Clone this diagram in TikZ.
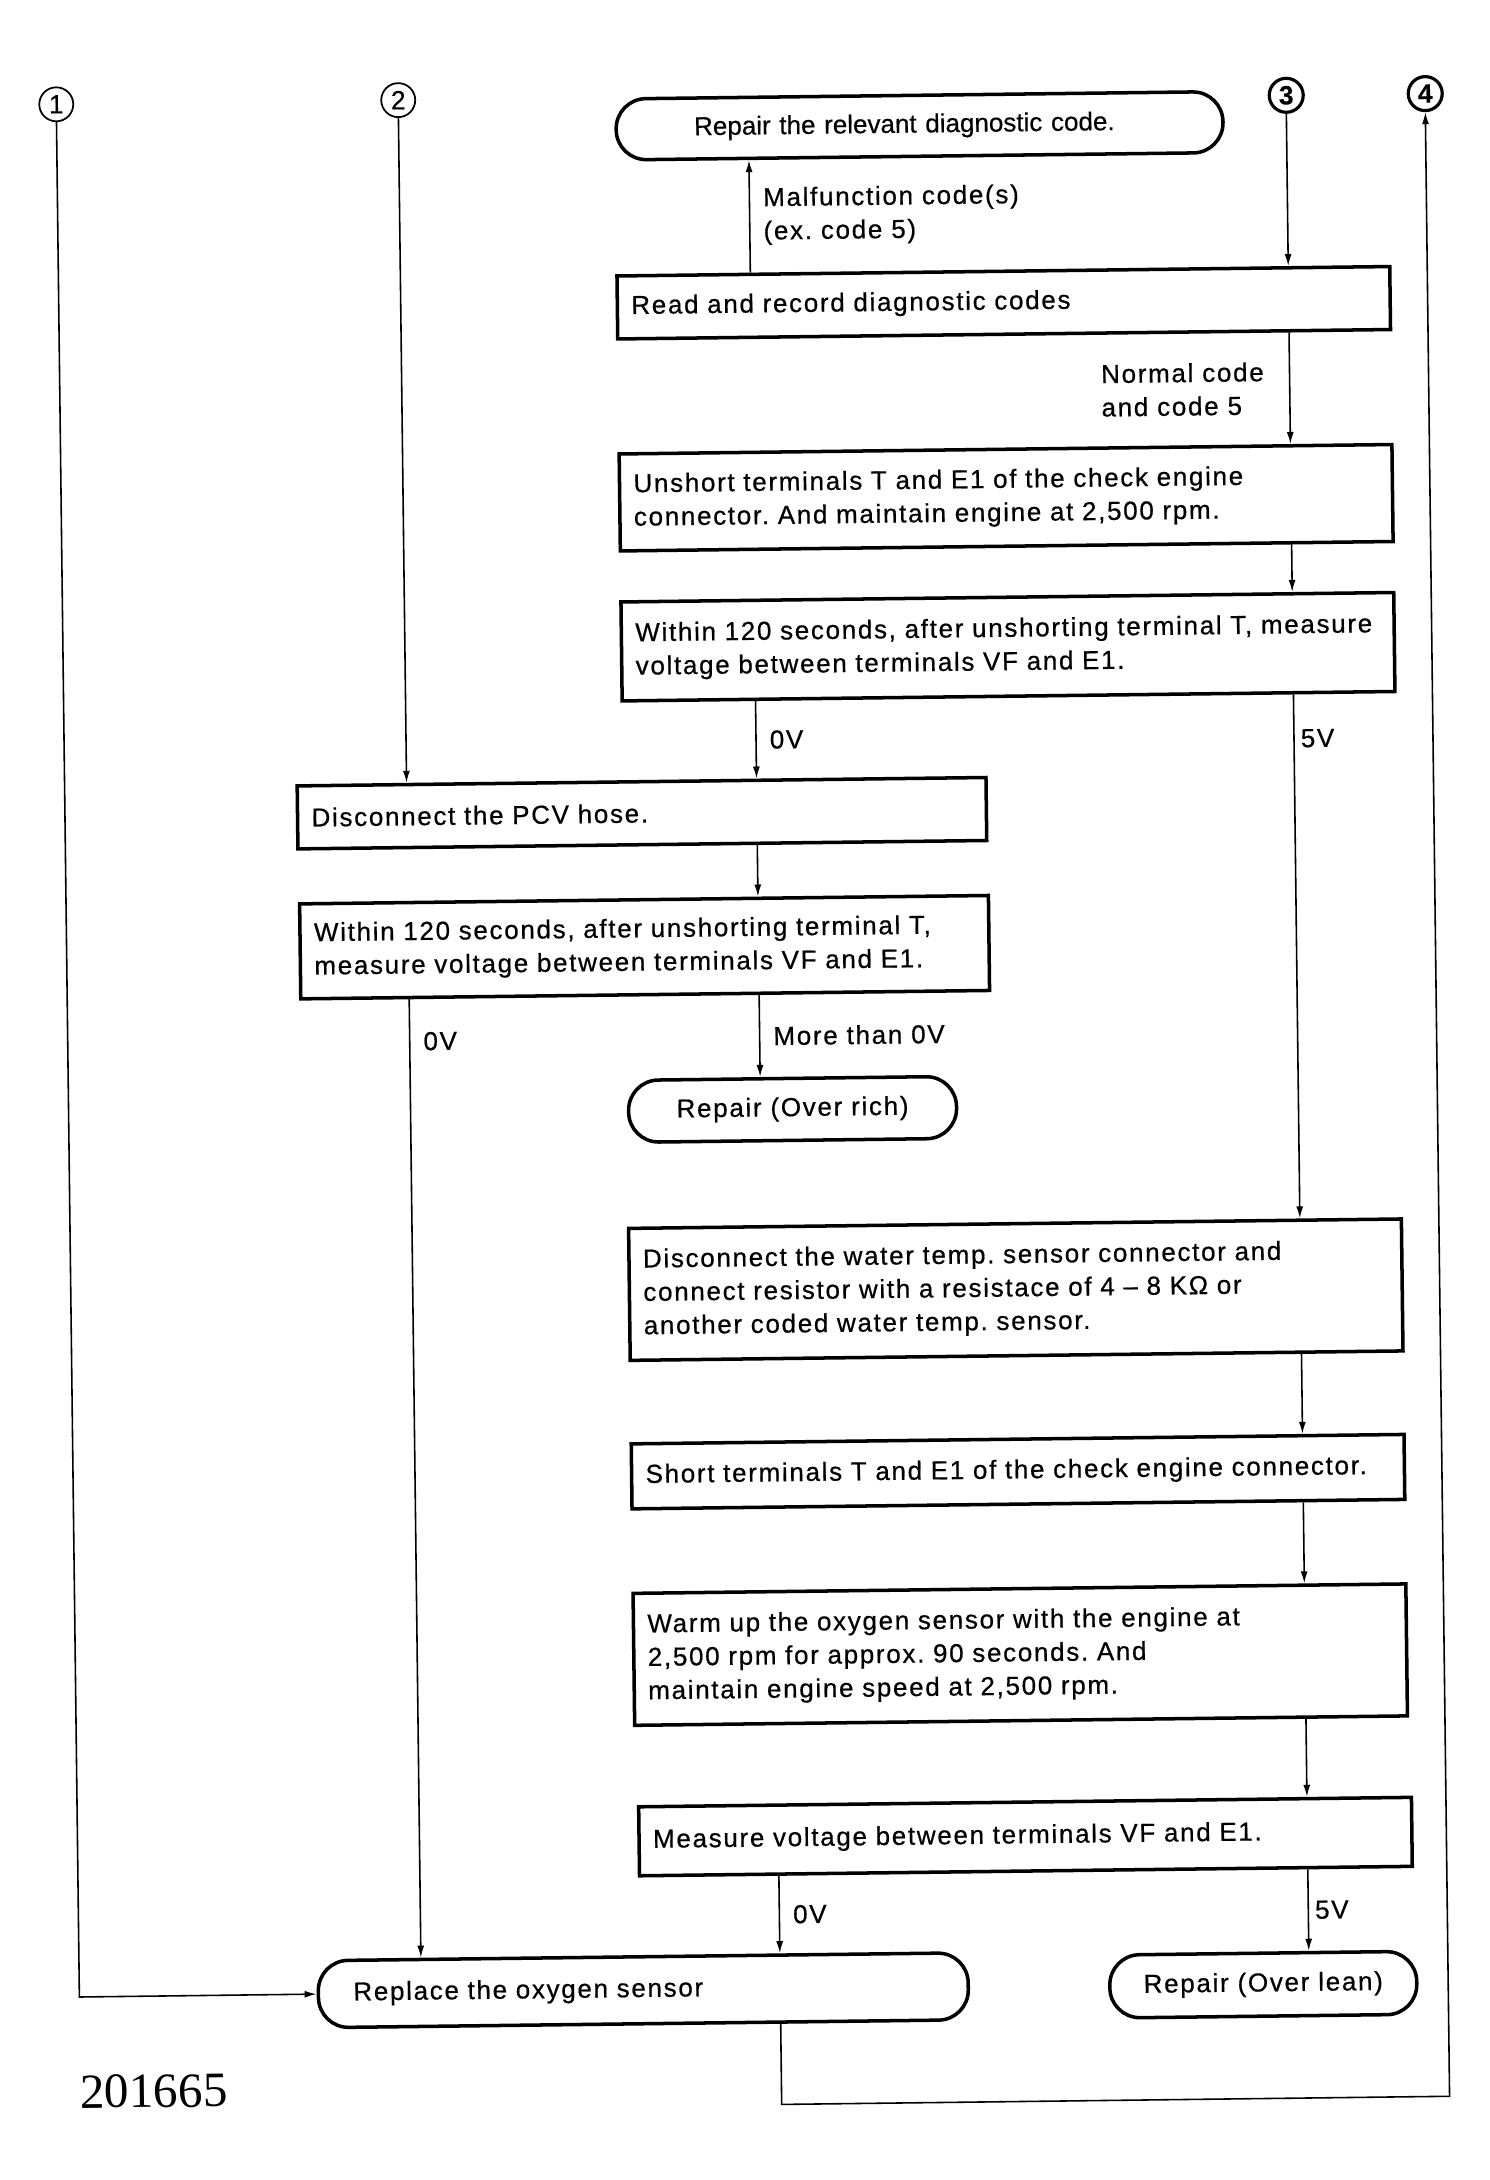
\documentclass[tikz,border=0pt]{standalone}
\usepackage{fontspec}
\setmainfont{Liberation Sans}[LetterSpace=6.5, FakeBold=0.6]
\newfontfamily\plainsans{Liberation Sans}[FakeBold=0.4]
\newfontfamily\figserif{Liberation Serif}
\usetikzlibrary{arrows.meta}
\frenchspacing

\tikzset{
  txt/.style={font=\fontsize{14.8}{19}\selectfont},
  procbox/.style={txt, draw, line width=2pt, text width=14.9cm, inner xsep=0.28cm, align=left},
  narrowbox/.style={procbox, text width=13.22cm},
  termbox/.style={txt, draw, line width=2pt, rounded corners=0.6cm, align=center},
  refmark/.style={circle, draw, line width=1.8pt, minimum size=0.68cm, inner sep=0pt,
    font=\plainsans\bfseries\fontsize{15}{15}\selectfont},
  thinmark/.style={line width=1pt, font=\plainsans\fontsize{15}{15}\selectfont},
  flow/.style={line width=0.9pt, -{Latex[length=0.24cm,width=0.14cm]}},
  lbl/.style={txt, align=left, inner xsep=0.26cm, inner ysep=0pt}
}

\begin{document}
\begin{tikzpicture}[x=0.02cm, y=-0.02cm]
\useasboundingbox (0,0) rectangle (1489,2180);
\begin{scope}[rotate=0.7, every node/.append style={transform shape}]
  % circled references
  \node[refmark, thinmark] (m1) at (55,105) {1};
  \node[refmark, thinmark] (m2) at (397,105) {2};
  \node[refmark] (m3) at (1285,111) {3};
  \node[refmark] (m4) at (1424,111) {4};

  % columns of the connectors
  \coordinate (colM) at (747,0);
  \coordinate (colB) at (756,0);
  \coordinate (colR) at (1285,0);
  \coordinate (loopA) at (756,2114);

  \node[termbox, text width=9.02cm, inner xsep=1.56cm, align=left, minimum height=1.22cm,
    font=\plainsans\fontsize{14.8}{19}\selectfont] (t0) at (918,137) {Repair the relevant diagnostic code.};
  \node[procbox, minimum height=1.26cm] (b1) at (1000,315) {Read and record diagnostic codes};
  \node[procbox, minimum height=1.94cm] (b2) at (1000,510)
    {Unshort terminals T and E1 of the check engine\\connector. And maintain engine at 2,500 rpm.};
  \node[procbox, minimum height=1.98cm] (b3) at (1000,659)
    {Within 120 seconds, after unshorting terminal T, measure\\voltage between terminals VF and E1.};
  \node[narrowbox, minimum height=1.26cm] (b4) at (632,821) {Disconnect the PCV hose.};
  \node[narrowbox, minimum height=1.9cm] (b5) at (633,955)
    {Within 120 seconds, after unshorting terminal T,\\measure voltage between terminals VF and E1.};
  \node[termbox, minimum width=6.56cm, minimum height=1.24cm] (t1) at (779,1119) {Repair (Over rich)};
  \node[procbox, minimum height=2.64cm] (b6) at (1000,1302)
    {Disconnect the water temp. sensor connector and\\connect resistor with a resistace of 4 – 8 KΩ or\\another coded water temp. sensor.};
  \node[procbox, minimum height=1.3cm] (b7) at (1000,1484) {Short terminals T and E1 of the check engine connector.};
  \node[procbox, minimum height=2.64cm] (b8) at (1000,1667)
    {Warm up the oxygen sensor with the engine at\\2,500 rpm for approx. 90 seconds. And\\maintain engine speed at 2,500 rpm.};
  \node[procbox, minimum height=1.38cm] (b9) at (1003,1849) {Measure voltage between terminals VF and E1.};
  \node[termbox, text width=11.6cm, inner xsep=0.7cm, align=left, minimum height=1.34cm] (t2) at (619,1998)
    {Replace the oxygen sensor};
  \node[termbox, minimum width=6.14cm, minimum height=1.26cm] (t3) at (1239,2000) {Repair (Over lean)};

  \node[font=\figserif\fontsize{28}{28}\selectfont, anchor=west, inner sep=0pt] (fignum) at (54,2093) {201665};

  % connectors
  \draw[flow] (b1.north -| colM) -- node[lbl, right] {Malfunction code(s)\\(ex. code 5)} (t0.south -| colM);
  \draw[flow] (m3) -- (b1.north -| colR);
  \draw[flow] (b1.south -| colR) -- node[lbl, left, inner xsep=0.5cm] {Normal code\\and code 5} (b2.north -| colR);
  \draw[flow] (b2.south -| colR) -- (b3.north -| colR);
  \draw[flow] (b3.south -| colM) -- node[lbl, right] {0V} (b4.north -| colM);
  \draw[flow] (b3.south -| colR) -- node[lbl, right, pos=0.084, inner xsep=0.12cm] {5V} (b6.north -| colR);
  \draw[flow] (m2) -- (b4.north -| m2);
  \draw[flow] (b4.south -| colM) -- (b5.north -| colM);
  \draw[flow] (b5.south -| m2) -- node[lbl, right, pos=0.044] {0V} (t2.north -| m2);
  \draw[flow] (b5.south -| colM) -- node[lbl, right] {More than 0V} (t1.north -| colM);
  \draw[flow] (b6.south -| colR) -- (b7.north -| colR);
  \draw[flow] (b7.south -| colR) -- (b8.north -| colR);
  \draw[flow] (b8.south -| colR) -- (b9.north -| colR);
  \draw[flow] (b9.south -| colB) -- node[lbl, right] {0V} (t2.north -| colB);
  \draw[flow] (b9.south -| colR) -- node[lbl, right, inner xsep=0.12cm] {5V} (t3.north -| colR);
  \draw[flow] (m1) |- (t2.west);
  \draw[flow] (t2.south -| loopA) -- (loopA) -| (m4);
\end{scope}
\end{tikzpicture}
\end{document}
